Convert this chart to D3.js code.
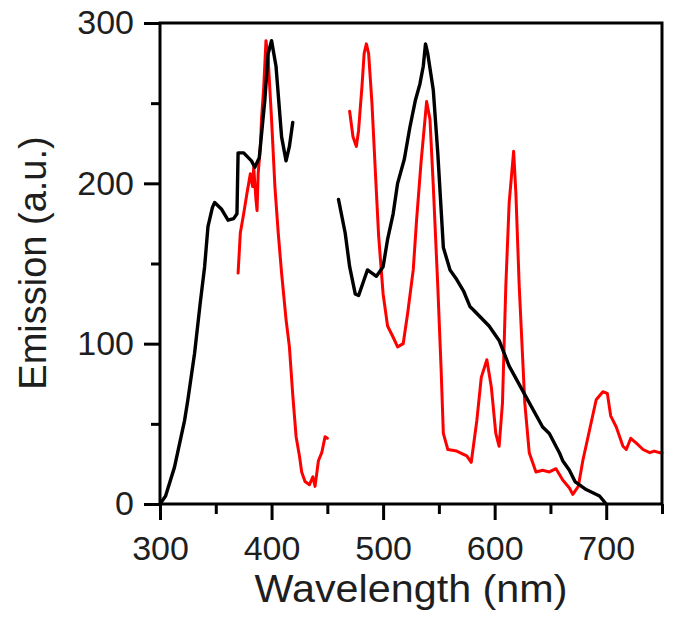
<!DOCTYPE html>
<html>
<head>
<meta charset="utf-8">
<script src="https://cdn.jsdelivr.net/npm/d3@7"></script>
<style>
  html, body { margin: 0; padding: 0; background: #fff; }
  svg { display: block; }
  text { font-family: "Liberation Sans", Arial, sans-serif; fill: #1e1e1e; }
</style>
</head>
<body>
<svg id="chart" width="676" height="621"></svg>
<script>
// ---- data (wavelength nm, emission a.u.) ----
const blackSeg1 = [[300,0],[305,5],[313,23],[322,52],[325,65],[331,94],[336,125],[340,148],[343,173],[347,185],[349,188],[355,184],[361,177],[366,178],[369,181],[370,219],[375,219],[382,214],[385,210],[389,216],[394,252],[397,281],[400,289],[404,273],[409,229],[413,214],[416,223],[419,238]];
const blackSeg2 = [[460,190],[466,169],[470,148],[475,131],[478,130],[482,138],[486,146],[490,144],[494,142],[500,148],[504,165],[509,181],[513,200],[519,215],[524,235],[529,252],[533,262],[536,273],[538,287],[540,281],[545,258],[549,219],[554,160],[560,146],[566,140],[572,133],[578,123],[581,121],[595,111],[604,102],[613,86],[628,67],[643,48],[649,44],[658,32],[661,27],[667,21],[672,14],[682,9],[694,5],[700,0]];
const redSeg1 = [[370,144],[372,169],[375,181],[378,194],[381,206],[383,198],[384,210],[386,190],[387,183],[388,206],[390,223],[391,240],[393,260],[395,289],[397,277],[400,240],[403,198],[406,169],[409,144],[413,115],[416,98],[419,68],[422,42],[425,30],[427,20],[430,14],[434,12],[437,17],[439,11],[442,27],[445,32],[448,42],[450,41]];
const redSeg2 = [[470,245],[473,229],[476,223],[478,233],[481,260],[483,281],[485,287],[487,281],[490,250],[493,208],[496,167],[500,131],[504,111],[509,104],[513,98],[518,100],[522,119],[527,146],[530,177],[534,213],[539,251],[542,240],[545,198],[549,136],[552,84],[554,44],[558,34],[566,33],[572,31],[575,30],[579,26],[584,52],[588,79],[593,90],[597,73],[601,44],[604,36],[607,63],[610,136],[613,188],[617,220],[619,194],[622,136],[627,63],[631,32],[637,20],[643,21],[649,20],[655,22],[661,15],[667,10],[670,6],[675,11],[679,27],[685,46],[691,65],[697,70],[701,69],[704,55],[709,48],[715,36],[718,34],[722,41],[727,38],[733,34],[739,32],[743,33],[748,32],[750,32]];

const xMajorTicks = [300, 400, 500, 600, 700];
const xMinorTicks = [350, 450, 550, 650, 750];
const yMajorTicks = [0, 100, 200, 300];
const yMinorTicks = [50, 150, 250];
const xTitle = "Wavelength (nm)";
const yTitle = "Emission (a.u.)";

// ---- layout ----
const plotL = 160, plotR = 662, plotT = 23, plotB = 504;
const svg = d3.select("#chart");
const x = d3.scaleLinear().domain([300, 750]).range([plotL, plotR]);
const y = d3.scaleLinear().domain([0, 300]).range([plotB, plotT]);

// curves
const line = d3.line().x(d => x(d[0])).y(d => y(d[1]));
const curves = [
  {data: redSeg1, color: "#ff0000", w: 3},
  {data: redSeg2, color: "#ff0000", w: 3},
  {data: blackSeg1, color: "#000000", w: 3.4},
  {data: blackSeg2, color: "#000000", w: 3.4}
];
svg.selectAll("path.curve").data(curves).join("path")
  .attr("class", "curve")
  .attr("d", d => line(d.data))
  .attr("fill", "none")
  .attr("stroke", d => d.color)
  .attr("stroke-width", d => d.w)
  .attr("stroke-linejoin", "round")
  .attr("stroke-linecap", "round");

// axes
function styleAxis(g) {
  g.select(".domain").remove();
  g.selectAll(".tick line").attr("stroke", "#000").attr("stroke-width", 3);
}
svg.append("g").attr("transform", `translate(0,${plotB})`)
  .call(d3.axisBottom(x).tickValues(xMinorTicks).tickSize(10).tickFormat(""))
  .call(styleAxis);
const gx = svg.append("g").attr("transform", `translate(0,${plotB})`)
  .call(d3.axisBottom(x).tickValues(xMajorTicks).tickSize(16).tickPadding(16).tickFormat(d3.format("d")))
  .call(styleAxis);
gx.selectAll(".tick text").attr("font-size", 34).attr("fill", "#1e1e1e")
  .attr("font-family", "'Liberation Sans', Arial, sans-serif");

svg.append("g").attr("transform", `translate(${plotL},0)`)
  .call(d3.axisLeft(y).tickValues(yMinorTicks).tickSize(9).tickFormat(""))
  .call(styleAxis);
const gy = svg.append("g").attr("transform", `translate(${plotL},0)`)
  .call(d3.axisLeft(y).tickValues(yMajorTicks).tickSize(16).tickPadding(10).tickFormat(d3.format("d")))
  .call(styleAxis);
gy.selectAll(".tick text").attr("font-size", 34).attr("fill", "#1e1e1e")
  .attr("font-family", "'Liberation Sans', Arial, sans-serif");

// frame
svg.append("rect")
  .attr("x", plotL).attr("y", plotT)
  .attr("width", plotR - plotL).attr("height", plotB - plotT)
  .attr("fill", "none").attr("stroke", "#000").attr("stroke-width", 3);

// titles
svg.append("text")
  .attr("x", (plotL + plotR) / 2).attr("y", 602)
  .attr("text-anchor", "middle")
  .attr("font-size", 38)
  .attr("textLength", 313).attr("lengthAdjust", "spacingAndGlyphs")
  .text(xTitle);
svg.append("text")
  .attr("transform", `translate(46,263) rotate(-90)`)
  .attr("text-anchor", "middle")
  .attr("font-size", 38)
  .text(yTitle);
</script>
</body>
</html>
